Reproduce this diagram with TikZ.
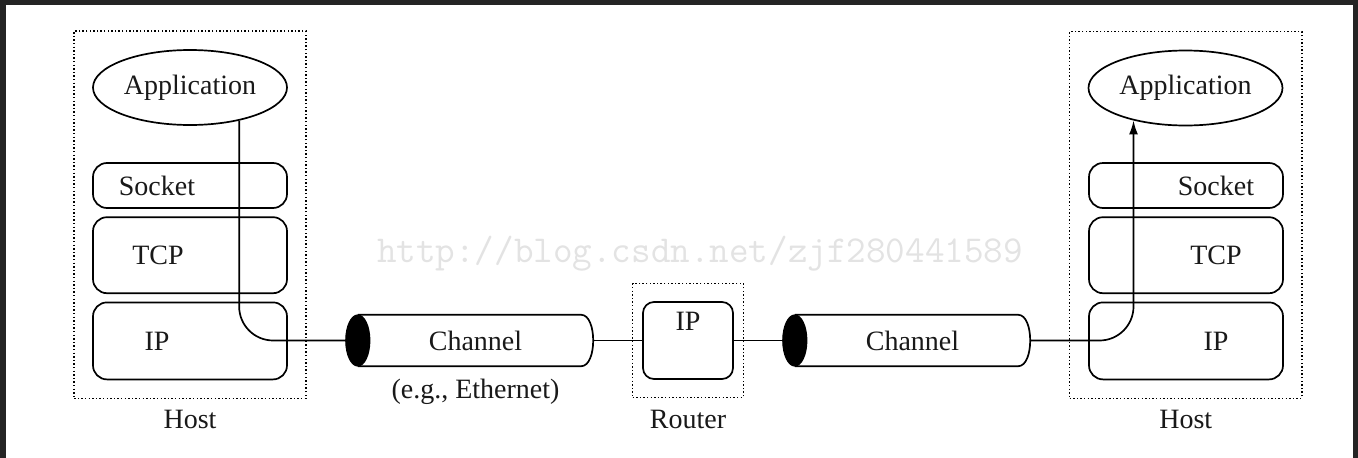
\documentclass[tikz,border=0pt]{standalone}
\usepackage{fontspec}
\setmainfont{Liberation Serif}
\usetikzlibrary{positioning,shapes.geometric,fit,arrows.meta}

\begin{document}
\begin{tikzpicture}[x=1pt,y=-1pt,
every node/.style={font=\fontsize{28}{33}\selectfont,text=black!90},
layer/.style={draw,rectangle,rounded corners=14pt,minimum width=194pt,line width=1.7pt,inner sep=0pt},
app/.style={draw,ellipse,minimum width=194pt,minimum height=75pt,line width=1.7pt,inner sep=0pt},
box/.style={draw,line width=1.4pt,dash pattern=on 1.4pt off 2.2pt,rectangle},
pipe/.style={rectangle,minimum width=235pt,minimum height=51pt,inner sep=0pt},
wire/.style={line width=1.7pt,rounded corners=34pt}]
% frame
\fill[black!86] (0,0) rectangle (1358,458);
\fill[white] (6,5) rectangle (1353,458);
\node (mark) [font=\ttfamily\fontsize{38}{40}\selectfont,text=black!11,anchor=base] at (700,262) {http://blog.csdn.net/zjf280441589};

% left host
\node (appA) [app] at (190,87.5) {Application};
\node (sockA) [layer,minimum height=45pt,label={[xshift=-33pt]center:Socket}] at (190,185.5) {};
\node (tcpA) [layer,minimum height=76pt,below=7.5pt of sockA,label={[xshift=-32pt]center:TCP}] {};
\node (ipA) [layer,minimum height=77pt,below=7.5pt of tcpA,label={[xshift=-33pt]center:IP}] {};
\node (hostA) [box,fit=(appA)(ipA),inner sep=18pt,label={[label distance=8pt]below:Host}] {};

% router
\node (ipM) [layer,rounded corners=11pt,minimum width=90pt,minimum height=77pt,label={[yshift=19pt]center:IP}] at (688,340.5) {};
\node (router) [box,fit=(ipM),inner xsep=9.5pt,inner ysep=17.5pt,label={[label distance=9pt]below:Router}] {};

% right host
\node (appB) [app] at (1185.5,88) {Application};
\node (sockB) [layer,minimum height=45pt,label={[xshift=30pt]center:Socket}] at (1186,185.5) {};
\node (tcpB) [layer,minimum height=76pt,below=7.5pt of sockB,label={[xshift=30pt]center:TCP}] {};
\node (ipB) [layer,minimum height=77pt,below=7.5pt of tcpB,label={[xshift=30pt]center:IP}] {};
\node (hostB) [box,fit=(appB)(ipB),inner sep=18pt,label={[label distance=8pt]below:Host}] {};

% channels
\node (chanA) [pipe,label={[label distance=9pt]below:(e.g., Ethernet)}] at (475.5,340.5) {Channel};
\node (chanB) [pipe] at (912.5,340.5) {Channel};
\draw[line width=1.7pt] (chanA.north west) -- ([xshift=-12pt]chanA.north east)
  .. controls ([xshift=4pt]chanA.north east) and ([xshift=4pt]chanA.south east) .. ([xshift=-12pt]chanA.south east)
  -- (chanA.south west);
\draw[line width=1.7pt] (chanB.north west) -- ([xshift=-12pt]chanB.north east)
  .. controls ([xshift=4pt]chanB.north east) and ([xshift=4pt]chanB.south east) .. ([xshift=-12pt]chanB.south east)
  -- (chanB.south west);
\filldraw[line width=1.2pt] (chanA.west) ellipse [x radius=12,y radius=25.5];
\filldraw[line width=1.2pt] (chanB.west) ellipse [x radius=12,y radius=25.5];

% links
\draw[wire] (appA.-34) |- (chanA.west);
\draw[wire] (chanA.east) -- (ipM.west);
\draw[wire] (ipM.east) -- (chanB.west);
\draw[wire,-{Latex[length=14pt,width=9pt]}] (chanB.east) -| (appB.-148);
\end{tikzpicture}
\end{document}
